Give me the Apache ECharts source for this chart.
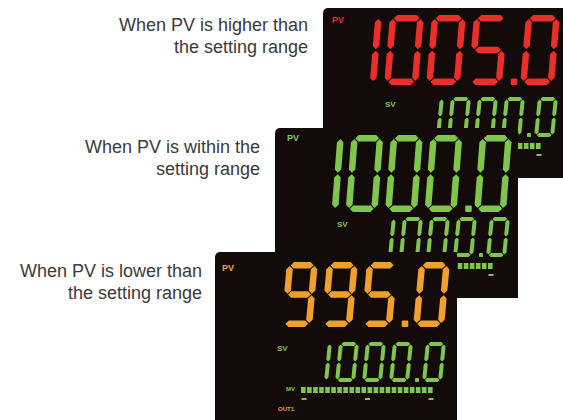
<!DOCTYPE html>
<html><head><meta charset="utf-8">
<script src="https://cdn.jsdelivr.net/npm/echarts@6/dist/echarts.min.js"></script>
<style>html,body{margin:0;padding:0;background:#fff}#c{width:563px;height:420px}</style>
</head><body><div id="c"></div>
<script>
// ---- data ----
const captionLine1 = ["When PV is higher than", "When PV is within the", "When PV is lower than"];
const captionLine2 = ["the setting range", "setting range", "the setting range"];
const pvValues = ["1005.0", "1000.0", "995.0"];
const svValues = ["1000.0", "1000.0", "1000.0"];
const mvLitBlocks = [22, 22, 22];
const tagPV = "PV", tagSV = "SV", tagMV = "MV", tagOUT = "OUT1";

// ---- styles / layout ----
const RED = "#ea2f28", GREEN = "#80c64a", ORANGE = "#efa12b", PANEL = "#130a0a", TEXT = "#3a3a3a";
const pvColor = [RED, GREEN, ORANGE];
const panelBox = [
  {x: 323, y: 8, w: 240, h: 170, lx: 9, ly: 7},
  {x: 275, y: 128, w: 243, h: 170, lx: 12, ly: 5},
  {x: 215, y: 252, w: 242, h: 168, lx: 7, ly: 11}
];
const pvFont = [
  {top: 7, h: 70, w: 40, p: 42, dot: 10, t: 6.5, s: 6, right: 237},
  {top: 7, h: 77, w: 38, p: 39.5, dot: 10, t: 6.5, s: 6, right: 237},
  {top: 10, h: 65, w: 37, p: 40, dot: 12, t: 6.5, s: 6, right: 235}
];
const svFont = [
  {top: 89, h: 40, w: 24, p: 27, dot: 6, t: 4, s: 4, right: 235},
  {top: 89, h: 40, w: 24, p: 27, dot: 6, t: 4, s: 4, right: 235},
  {top: 90, h: 40, w: 24, p: 27, dot: 6, t: 4, s: 4, right: 231}
];
const captionPos = [{x: 308, y: 25}, {x: 260, y: 147}, {x: 202, y: 271}];

const SEG = {'0':'abcdef','1':'bc','2':'abged','3':'abgcd','4':'fgbc','5':'afgcd','6':'afgedc','7':'abc','8':'abcdefg','9':'abcdfg'};

function digitPolys(ch, x0, y0, f, P) {
  const W = f.w - f.s, h = f.h, t = f.t, g = Math.max(0.6, t * 0.12);
  const map = (u, v) => P(x0 + u + f.s * (1 - v / h), y0 + v);
  const hseg = (y) => { const x1 = t * 0.5 + g, x2 = W - t * 0.5 - g;
    return [[x1, y], [x1 + t / 2, y - t / 2], [x2 - t / 2, y - t / 2], [x2, y], [x2 - t / 2, y + t / 2], [x1 + t / 2, y + t / 2]]; };
  const vseg = (x, y1, y2) => [[x, y1], [x + t / 2, y1 + t / 2], [x + t / 2, y2 - t / 2], [x, y2], [x - t / 2, y2 - t / 2], [x - t / 2, y1 + t / 2]];
  const segs = {
    a: hseg(t / 2), g: hseg(h / 2), d: hseg(h - t / 2),
    f: vseg(t / 2, t / 2 + g, h / 2 - g), b: vseg(W - t / 2, t / 2 + g, h / 2 - g),
    e: vseg(t / 2, h / 2 + g, h - t / 2 - g), c: vseg(W - t / 2, h / 2 + g, h - t / 2 - g)
  };
  return SEG[ch].split('').map(k => segs[k].map(([u, v]) => map(u, v)));
}

function drawNumber(str, bx, by, f, color, P, z, out) {
  let x = bx + f.right;
  const y0 = by + f.top;
  for (let i = str.length - 1; i >= 0; i--) {
    const ch = str[i];
    if (ch === '.') {
      const dx = x - f.dot / 2 - f.t / 2 + 1;
      const p1 = P(dx, y0 + f.h - f.t), p2 = P(dx + f.t, y0 + f.h);
      out.push({type: 'rect', z2: z, shape: {x: p1[0], y: p1[1], width: p2[0] - p1[0], height: p2[1] - p1[1], r: 1}, style: {fill: color}});
      x -= f.dot;
    } else {
      const left = x - f.w;
      digitPolys(ch, left, y0, f, P).forEach(pts => out.push({type: 'polygon', z2: z, shape: {points: pts}, style: {fill: color}}));
      x = left - (f.p - f.w);
    }
  }
}

function renderPanel(params, api) {
  const i = api.value(0);
  const P = (x, y) => api.coord([x, y]);
  const b = panelBox[i];
  const z = (i + 1) * 10;
  const ch = [];
  const tl = P(b.x, b.y), br = P(b.x + b.w, b.y + b.h);
  ch.push({type: 'rect', z2: z, shape: {x: tl[0], y: tl[1], width: br[0] - tl[0], height: br[1] - tl[1], r: [5, 0, 0, 0]}, style: {fill: PANEL}});
  // tags
  const pvT = P(b.x + b.lx, b.y + b.ly);
  ch.push({type: 'text', z2: z + 1, style: {text: tagPV, x: pvT[0], y: pvT[1], fill: pvColor[i], font: 'bold 9px "Liberation Sans", Arial, sans-serif', verticalAlign: 'top'}});
  const svT = P(b.x + 62, b.y + 92);
  ch.push({type: 'text', z2: z + 1, style: {text: tagSV, x: svT[0], y: svT[1], fill: GREEN, font: 'bold 8px "Liberation Sans", Arial, sans-serif', verticalAlign: 'top'}});
  const mvT = P(b.x + 71, b.y + 134);
  ch.push({type: 'text', z2: z + 1, style: {text: tagMV, x: mvT[0], y: mvT[1], fill: GREEN, font: 'bold 6px "Liberation Sans", Arial, sans-serif', verticalAlign: 'top'}});
  const oT = P(b.x + 63, b.y + 154);
  ch.push({type: 'text', z2: z + 1, style: {text: tagOUT, x: oT[0], y: oT[1], fill: ORANGE, font: 'bold 6px "Liberation Sans", Arial, sans-serif', verticalAlign: 'top'}});
  // digits
  drawNumber(pvValues[i], b.x, b.y, pvFont[i], pvColor[i], P, z + 1, ch);
  drawNumber(svValues[i], b.x, b.y, svFont[i], GREEN, P, z + 1, ch);
  // MV bar graph
  const n = 22, x0 = b.x + 86, x1 = b.x + 219, pitch = (x1 - x0) / n;
  for (let k = 0; k < n; k++) {
    const lit = k < mvLitBlocks[i];
    const a = P(x0 + k * pitch, b.y + 135), c = P(x0 + k * pitch + pitch - 1.4, b.y + 141);
    ch.push({type: 'rect', z2: z + 1, shape: {x: a[0], y: a[1], width: c[0] - a[0], height: c[1] - a[1]}, style: {fill: lit ? GREEN : '#1e2a14'}});
  }
  [x0 + 3, (x0 + x1) / 2, x1 - 3].forEach(mx => {
    const a = P(mx - 2.5, b.y + 146), c = P(mx + 2.5, b.y + 148);
    ch.push({type: 'rect', z2: z + 1, shape: {x: a[0], y: a[1], width: c[0] - a[0], height: c[1] - a[1]}, style: {fill: GREEN}});
  });
  // caption
  const cp = captionPos[i];
  const c1 = P(cp.x, cp.y), c2 = P(cp.x, cp.y + 22);
  ch.push({type: 'text', z2: 1, style: {text: captionLine1[i], x: c1[0], y: c1[1], fill: TEXT, font: '18px "Liberation Sans", Arial, sans-serif', align: 'right', verticalAlign: 'middle'}});
  ch.push({type: 'text', z2: 1, style: {text: captionLine2[i], x: c2[0], y: c2[1], fill: TEXT, font: '18px "Liberation Sans", Arial, sans-serif', align: 'right', verticalAlign: 'middle'}});
  return {type: 'group', children: ch};
}

const chart = echarts.init(document.getElementById('c'), null, {renderer: 'svg'});
chart.setOption({
  animation: false,
  backgroundColor: '#ffffff',
  grid: {left: 0, right: 0, top: 0, bottom: 0},
  xAxis: {type: 'value', min: 0, max: 563, show: false},
  yAxis: {type: 'value', min: 0, max: 420, inverse: true, show: false},
  series: [{
    type: 'custom', silent: true, clip: false,
    data: pvValues.map((v, i) => [i]),
    renderItem: renderPanel
  }]
});
</script></body></html>
